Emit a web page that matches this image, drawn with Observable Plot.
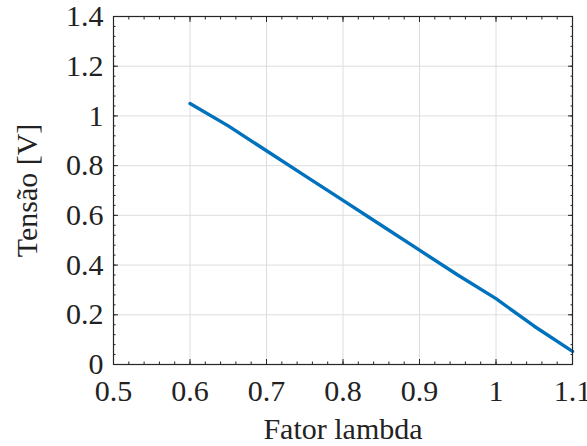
<!DOCTYPE html>
<html>
<head>
<meta charset="utf-8">
<script src="https://cdn.jsdelivr.net/npm/d3@7"></script>
<script src="https://cdn.jsdelivr.net/npm/@observablehq/plot@0.6"></script>
<style>
  html, body { margin: 0; padding: 0; background: #fff; }
  #chart svg { display: block; }
</style>
</head>
<body>
<div id="chart"></div>
<script>
const lambda = [0.6, 0.65, 0.7, 0.75, 0.8, 0.85, 0.9, 0.95, 1.0, 1.05, 1.1];
const tensao = [1.05, 0.96, 0.86, 0.76, 0.66, 0.56, 0.46, 0.36, 0.265, 0.154, 0.053];
const xTicks = [0.5, 0.6, 0.7, 0.8, 0.9, 1.0, 1.1];
const yTicks = [0, 0.2, 0.4, 0.6, 0.8, 1.0, 1.2, 1.4];
const xMinor = d3.range(0, 31).map(i => +(0.5 + i * 0.02).toFixed(2));
const yMinor = d3.range(0, 36).map(i => +(i * 0.04).toFixed(2));
const xLabel = "Fator lambda";
const yLabel = "Tensão [V]";

const data = lambda.map((x, i) => ({x, y: tensao[i]}));
const fmt = d => d3.format("")(+d.toFixed(1));
const axisColor = "#262626";
const fs = 30;

const chart = Plot.plot({
  width: 587,
  height: 446,
  marginLeft: 113,
  marginRight: 15,
  marginTop: 16,
  marginBottom: 82,
  style: {fontFamily: "'Liberation Serif', serif", fontSize: fs + "px", color: axisColor, background: "#fff"},
  x: {domain: [0.5, 1.1]},
  y: {domain: [0, 1.4]},
  marks: [
    Plot.gridX(xTicks, {stroke: "#dedede", strokeOpacity: 1, strokeWidth: 1}),
    Plot.gridY(yTicks, {stroke: "#dedede", strokeOpacity: 1, strokeWidth: 1}),
    Plot.line(data, {x: "x", y: "y", stroke: "#0072BD", strokeWidth: 3.4}),
    // labels
    Plot.axisX({ticks: xTicks, tickSize: 0, tickPadding: 15, tickFormat: fmt, label: xLabel, labelAnchor: "center", labelArrow: "none", labelOffset: 74, fontSize: fs, fill: "#222"}),
    Plot.axisY({ticks: yTicks, tickSize: 0, tickPadding: 10, tickFormat: fmt, label: yLabel, labelAnchor: "center", labelArrow: "none", labelOffset: 98, fontSize: fs, fill: "#222"}),
    // inward ticks, all four sides
    Plot.axisX({anchor: "bottom", ticks: xTicks, tickSize: -5, tickFormat: () => "", label: null, stroke: axisColor}),
    Plot.axisX({anchor: "top", ticks: xTicks, tickSize: -5, tickFormat: () => "", label: null, stroke: axisColor}),
    Plot.axisX({anchor: "bottom", ticks: xMinor, tickSize: -2.5, tickFormat: () => "", label: null, stroke: axisColor}),
    Plot.axisX({anchor: "top", ticks: xMinor, tickSize: -2.5, tickFormat: () => "", label: null, stroke: axisColor}),
    Plot.axisY({anchor: "left", ticks: yTicks, tickSize: -5, tickFormat: () => "", label: null, stroke: axisColor}),
    Plot.axisY({anchor: "right", ticks: yTicks, tickSize: -5, tickFormat: () => "", label: null, stroke: axisColor}),
    Plot.axisY({anchor: "left", ticks: yMinor, tickSize: -2.5, tickFormat: () => "", label: null, stroke: axisColor}),
    Plot.axisY({anchor: "right", ticks: yMinor, tickSize: -2.5, tickFormat: () => "", label: null, stroke: axisColor}),
    Plot.frame({stroke: axisColor, strokeWidth: 1.2})
  ]
});
document.getElementById("chart").appendChild(chart);
</script>
</body>
</html>
